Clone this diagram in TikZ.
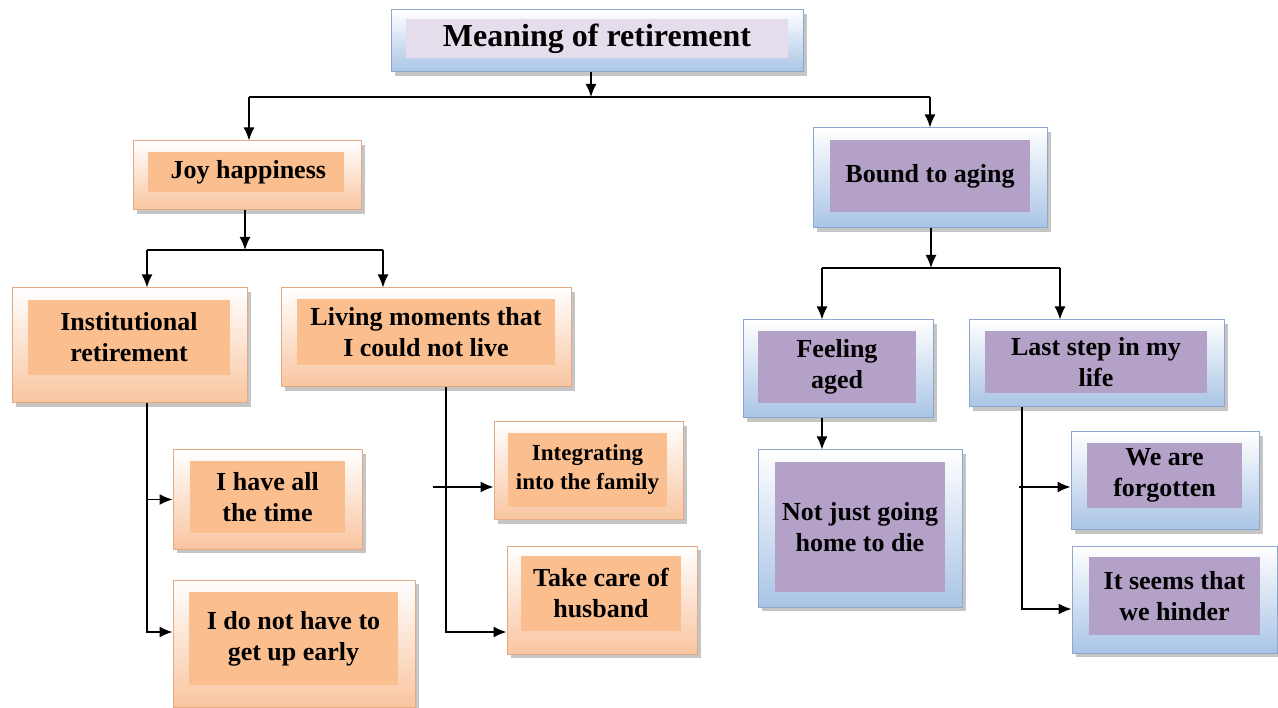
\documentclass[tikz,border=0pt]{standalone}
\usepackage{fontspec}
\setmainfont{Liberation Serif}
\usepackage{tikz}
\usetikzlibrary{arrows.meta,shadows}

\definecolor{peach}{HTML}{FBBE8E}
\definecolor{peachlow}{HTML}{F9C5A0}
\definecolor{peachline}{HTML}{E3A983}
\definecolor{lilac}{HTML}{B3A1C8}
\definecolor{lavender}{HTML}{E6DDEC}
\definecolor{skylow}{HTML}{A9C4E6}
\definecolor{skyline}{HTML}{8EA8CC}

\begin{document}
\begin{tikzpicture}[x=1pt, y=-1pt,
  size/.style 2 args = {minimum width=#1, minimum height=#2, inner sep=0pt},
  orangebox/.style = {draw=peachline, line width=1pt, top color=white, bottom color=peachlow,
    drop shadow={shadow xshift=4pt, shadow yshift=-4pt, fill=black!45}},
  bluebox/.style = {draw=skyline, line width=1pt, top color=white, bottom color=skylow,
    drop shadow={shadow xshift=4pt, shadow yshift=-4pt, fill=black!45}},
  orangein/.style = {fill=peach, align=center, font=\fontsize{26}{31}\selectfont\bfseries},
  purplein/.style = {fill=lilac, align=center, font=\fontsize{26}{31}\selectfont\bfseries},
  arr/.style = {-{Latex[length=13pt,width=11pt]}, line width=1.5pt}]
\useasboundingbox (0,0) rectangle (1278,708);

% top
\node[bluebox, size={412}{62}] (title) at (597,41) {};
\node[fill=lavender, size={382}{39}, font=\fontsize{32}{38}\selectfont\bfseries] (title-in) at (597,38.5) {Meaning of retirement};

% left branch
\node[orangebox, size={228}{69}] (joy) at (247,175.5) {};
\node[orangein, size={196}{40}, anchor=west] (joy-in) at (148,172) {\,Joy happiness};
\node[orangebox, size={235}{115}] (inst) at (129.5,345.5) {};
\node[orangein, size={202}{75}] (inst-in) at (129,337.5) {Institutional\\retirement};
\node[orangebox, size={290}{99}] (living) at (426,337.5) {};
\node[orangein, size={258}{66}] (living-in) at (426,332) {Living moments that\\I could not live};
\node[orangebox, size={189}{99}] (ihave) at (267.5,499.5) {};
\node[orangein, size={155}{72}] (ihave-in) at (267.5,497) {I have all\\the time};
\node[orangebox, size={242}{127}] (ido) at (294,643.5) {};
\node[orangein, size={209}{93}] (ido-in) at (293.5,638.5) {I do not have to\\get up early};
\node[orangebox, size={189}{98}] (integ) at (588.5,471) {};
\node[orangein, size={159}{74}, font=\fontsize{23}{29}\selectfont\bfseries] (integ-in) at (587.5,470) {Integrating\\into the family};
\node[orangebox, size={190}{108}] (husband) at (602,600) {};
\node[orangein, size={160}{75}] (husband-in) at (601,593.5) {Take care of\\husband};

% right branch
\node[bluebox, size={234}{100}] (bound) at (930,178) {};
\node[purplein, size={200}{72}] (bound-in) at (930,176) {Bound to aging};
\node[bluebox, size={190}{98}] (feel) at (838,369) {};
\node[purplein, size={158}{72}] (feel-in) at (837,367) {Feeling\\aged};
\node[bluebox, size={204}{157}] (nojust) at (860,528.5) {};
\node[purplein, size={170}{130}] (nojust-in) at (860,527) {Not just going\\home to die};
\node[bluebox, size={255}{87}] (last) at (1096.5,363.5) {};
\node[purplein, size={222}{62}] (last-in) at (1096,362) {Last step in my\\life};
\node[bluebox, size={188}{98}] (forgot) at (1165,481) {};
\node[purplein, size={155}{65}] (forgot-in) at (1164.5,475.5) {We are\\forgotten};
\node[bluebox, size={205}{107}] (seems) at (1174.5,599.5) {};
\node[purplein, size={171}{78}] (seems-in) at (1174.5,596) {It seems that\\we hinder};

% connectors
\coordinate (topbar) at (591,97);
\coordinate (joybar) at (245,250);
\coordinate (boundbar) at (931,268);

\draw[arr] (title.south -| topbar) -- (topbar);
\draw[line width=1.5pt] ([xshift=2pt]joy.north |- topbar) -- (bound.north |- topbar);
\draw[arr] ([xshift=2pt]joy.north |- topbar) -- ([xshift=2pt]joy.north);
\draw[arr] (bound.north |- topbar) -- (bound.north);

\draw[arr] (joy.south -| joybar) -- (joybar);
\draw[line width=1.5pt] ([xshift=17.5pt]inst.north |- joybar) -- ([xshift=-43pt]living.north |- joybar);
\draw[arr] ([xshift=17.5pt]inst.north |- joybar) -- ([xshift=17.5pt]inst.north);
\draw[arr] ([xshift=-43pt]living.north |- joybar) -- ([xshift=-43pt]living.north);

\draw[arr] ([xshift=17.5pt]inst.south) |- (ihave.west);
\draw[arr] ([xshift=17.5pt]inst.south) |- ([yshift=11.5pt]ido.west);
\draw[arr] ([xshift=20pt]living.south) |- ([yshift=-32pt]husband.west);
\draw[arr] ([xshift=-61pt,yshift=-16pt]integ.west) -- ([yshift=-16pt]integ.west);

\draw[arr] (bound.south -| boundbar) -- (boundbar);
\draw[line width=1.5pt] ([xshift=-16pt]feel.north |- boundbar) -- ([xshift=-36.5pt]last.north |- boundbar);
\draw[arr] ([xshift=-16pt]feel.north |- boundbar) -- ([xshift=-16pt]feel.north);
\draw[arr] ([xshift=-36.5pt]last.north |- boundbar) -- ([xshift=-36.5pt]last.north);
\draw[arr] ([xshift=-16pt]feel.south) -- ([xshift=-16pt]feel.south |- nojust.north);

\draw[arr] ([xshift=-74.5pt]last.south) |- ([yshift=-9.5pt]seems.west);
\draw[arr] ([xshift=-52pt,yshift=-6pt]forgot.west) -- ([yshift=-6pt]forgot.west);
\end{tikzpicture}
\end{document}
